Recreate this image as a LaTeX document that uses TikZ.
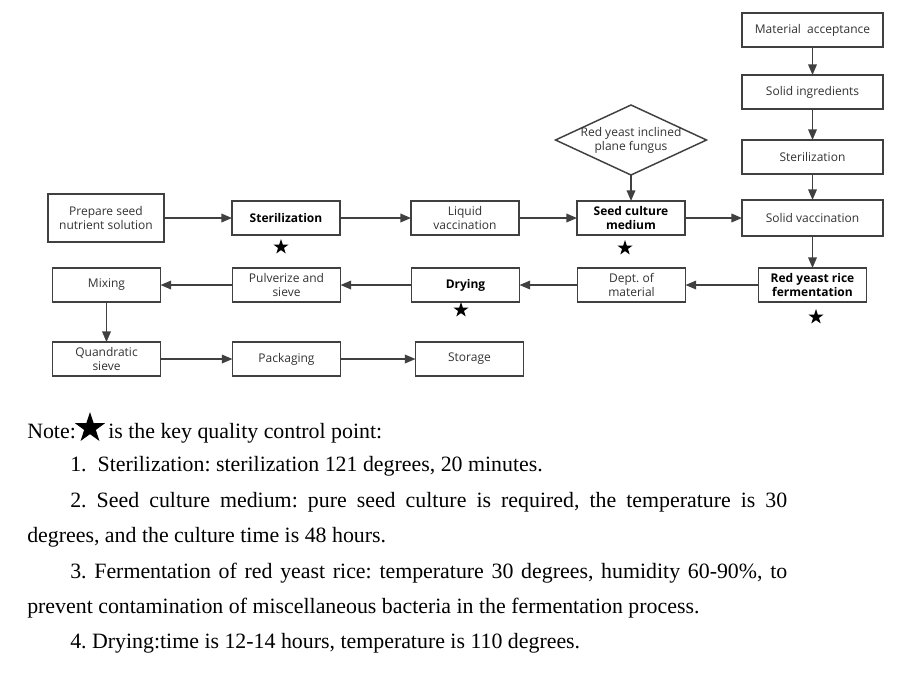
\documentclass[tikz,border=0pt]{standalone}
\usepackage{fontspec}
\usepackage{tikz}
\usetikzlibrary{positioning}
\usetikzlibrary{shapes.geometric}
\usetikzlibrary{arrows.meta}
\newfontfamily\boxfont{Open Sans}
\newfontfamily\notefont{Liberation Serif}
\definecolor{linegray}{RGB}{64,64,64}
\definecolor{textgray}{RGB}{50,50,50}
\frenchspacing

\begin{document}
\begin{tikzpicture}[
    x=0.75pt, y=-0.75pt,
    box/.style={rectangle, draw=linegray, line width=1.1pt, outer sep=0pt, minimum width=81pt, minimum height=25.5pt, inner sep=1pt, align=center, text=textgray, font=\boxfont\fontsize{9}{10.5}\selectfont},
    widebox/.style={box, minimum width=105.75pt},
    key/.style={text=black, font=\boxfont\bfseries\fontsize{9}{10.5}\selectfont},
    arrow/.style={-{Triangle[length=8pt, width=6.5pt]}, draw=linegray, line width=1.1pt},
    qcstar/.style={star, star points=5, star point ratio=2.6, fill=black, inner sep=0pt, minimum size=12pt},
    note/.style={anchor=base west, inner sep=0pt, font=\notefont\fontsize{16.4}{20}\selectfont}
]
\useasboundingbox (0,0) rectangle (899,672);

% Right column
\node[widebox] (matacc) at (812.5,30) {Material\ \ acceptance};
\node[widebox] (solidin) [below=21pt of matacc] {Solid ingredients};
\node[widebox] (steriltwo) [below=23.25pt of solidin] {Sterilization};
\node[widebox, minimum height=27pt] (solidvac) [below=19.5pt of steriltwo] {Solid vaccination};

% Seed line
\node[box, key] (seed) [left=42.75pt of solidvac] {Seed culture\\medium};
\node[box] (liquid) [left=43.5pt of seed] {Liquid\\vaccination};
\node[box, key] (sterilone) [left=53.25pt of liquid] {Sterilization};
\node[box, minimum width=87pt, minimum height=36pt] (prepare) [left=51pt of sterilone] {Prepare seed\\nutrient solution};
\node[diamond, draw=linegray, line width=1.1pt, outer sep=0pt, minimum width=113.25pt, minimum height=52.5pt, inner sep=0pt] (fungus) [above=19.5pt of seed] {};
\node[align=center, text=textgray, font=\boxfont\fontsize{9}{10.5}\selectfont, inner sep=0pt] (fungustxt) at (fungus) {Red yeast inclined\\plane fungus};

% Fermentation line
\node[box, key] (ferment) [below=24pt of solidvac] {Red yeast rice\\fermentation};
\node[box] (dept) [left=54.75pt of ferment] {Dept. of\\material};
\node[box, key] (drying) [left=43.5pt of dept] {Drying};
\node[box] (pulver) [left=53.25pt of drying] {Pulverize and\\sieve};
\node[box] (mixing) [left=54pt of pulver] {Mixing};

% Packing line
\node[box] (quad) [below=30pt of mixing] {Quandratic\\sieve};
\node[box] (pack) [right=54pt of quad] {Packaging};
\node[box] (store) [right=56.25pt of pack] {Storage};

% Quality control points
\node[qcstar] (qcone) at (281,247) {};
\node[qcstar] (qctwo) at (625,248) {};
\node[qcstar] (qcthree) at (461,310) {};
\node[qcstar] (qcfour) at (816,317) {};

% Flows
\draw[arrow] (matacc) -- (solidin);
\draw[arrow] (solidin) -- (steriltwo);
\draw[arrow] (steriltwo) -- (solidvac);
\draw[arrow] (solidvac) -- (ferment);
\draw[arrow] (prepare) -- (sterilone);
\draw[arrow] (sterilone) -- (liquid);
\draw[arrow] (liquid) -- (seed);
\draw[arrow] (fungus) -- (seed);
\draw[arrow] (seed) -- (solidvac);
\draw[arrow] (ferment) -- (dept);
\draw[arrow] (dept) -- (drying);
\draw[arrow] (drying) -- (pulver);
\draw[arrow] (pulver) -- (mixing);
\draw[arrow] (mixing) -- (quad);
\draw[arrow] (quad) -- (pack);
\draw[arrow] (pack) -- (store);

% Note
\node[note] (notehead) at (27,438) {Note:};
\node[star, star points=5, star point ratio=2.6, fill=black, inner sep=0pt, minimum size=24pt] (bigstar) at (90,428) {};
\node[note] (notetail) at (108,438) {is the key quality control point:};
\node[note] (lineone) at (70,471) {1.\ \ Sterilization: sterilization 121 degrees, 20 minutes.};
\node[note] (linetwo) at (70,507) {\makebox[537.75pt][s]{2. Seed culture medium: pure seed culture is required, the temperature is 30}};
\node[note] (linetwob) at (27,542) {degrees, and the culture time is 48 hours.};
\node[note] (linethree) at (70,578) {\makebox[537.75pt][s]{3. Fermentation of red yeast rice: temperature 30 degrees, humidity 60-90\%, to}};
\node[note] (linethreeb) at (27,613) {prevent contamination of miscellaneous bacteria in the fermentation process.};
\node[note] (linefour) at (70,648) {4. Drying:time is 12-14 hours, temperature is 110 degrees.};

\end{tikzpicture}
\end{document}
